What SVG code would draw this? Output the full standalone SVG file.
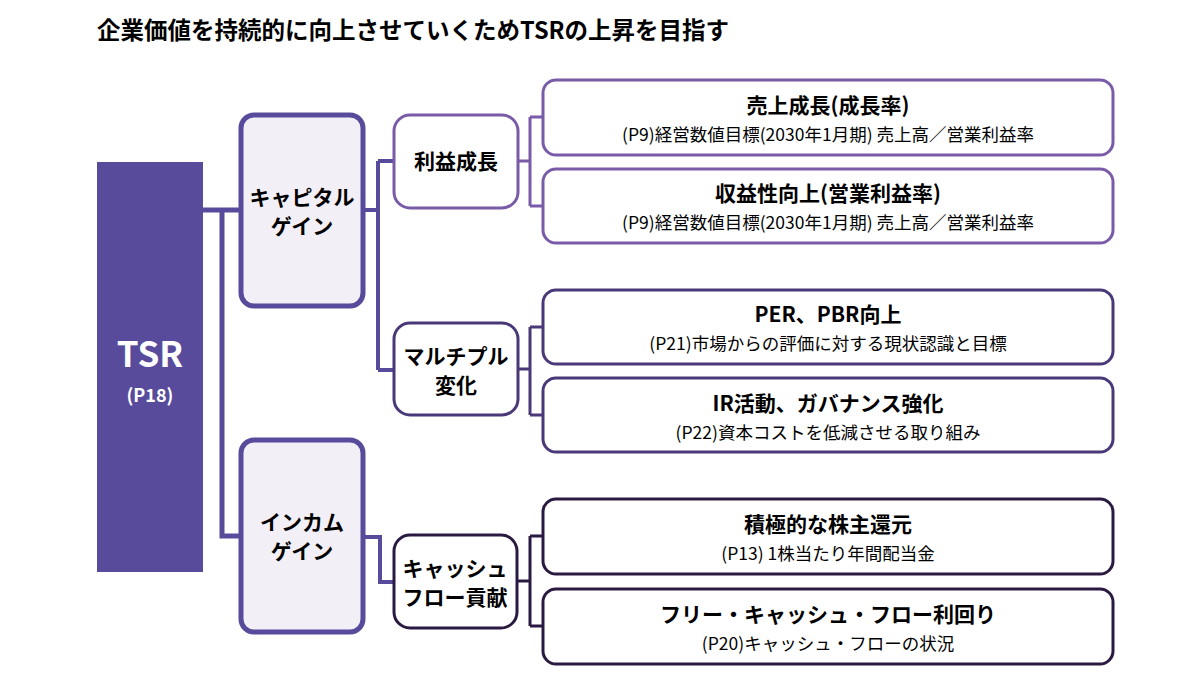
<svg xmlns="http://www.w3.org/2000/svg" width="1200" height="696" viewBox="0 0 1200 696">
<style>
text{font-family:"Noto Sans CJK JP","Noto Sans",sans-serif;fill:#000;text-anchor:middle}
.t{font-size:21px;font-weight:bold}
.s{font-size:17.5px}
.b{font-size:21px;font-weight:bold}
.cn{fill:none;stroke-linejoin:miter}
</style>
<rect width="1200" height="696" fill="#fff"/>
<text x="97" y="39" style="font-size:23.5px;font-weight:bold;text-anchor:start">企業価値を持続的に向上させていくためTSRの上昇を目指す</text>
<g id="connectors" class="cn">
<path d="M203 210H222V536H239M222 210H239" stroke="#584b9b" stroke-width="5"/>
<path d="M364 210H378M378 161V370M378 161H393M378 370H393" stroke="#584b9b" stroke-width="4"/>
<path d="M364 537H380V582H393" stroke="#584b9b" stroke-width="4"/>
<path d="M518 161H530M530 117V206M530 117H543M530 206H543" stroke="#7a5ba8" stroke-width="3"/>
<path d="M518 369H530M530 327V415M530 327H543M530 415H543" stroke="#4a3878" stroke-width="3"/>
<path d="M517 581H530M530 536V626M530 536H543M530 626H543" stroke="#2a1a42" stroke-width="3"/>
</g>
<g id="tsr"><rect x="97" y="162" width="106" height="410" fill="#584b9b"/>
<text x="150" y="367" style="font-size:35px;font-weight:bold;fill:#fff">TSR</text>
<text x="150" y="402" style="font-size:18px;font-weight:bold;fill:#fff">(P18)</text></g>
<g id="capital"><rect x="241" y="115" width="122" height="191" rx="13" fill="#f2eff6" stroke="#584b9b" stroke-width="5"/>
<text x="302" y="205" class="b">キャピタル</text><text x="302" y="234" class="b">ゲイン</text></g>
<g id="income"><rect x="241" y="440" width="122" height="192" rx="13" fill="#f2eff6" stroke="#584b9b" stroke-width="5"/>
<text x="302" y="530" class="b">インカム</text><text x="302" y="559" class="b">ゲイン</text></g>
<g id="rieki"><rect x="394" y="115" width="124" height="93" rx="16" fill="#fff" stroke="#7a5ba8" stroke-width="3"/>
<text x="456" y="169" class="b">利益成長</text></g>
<g id="multiple"><rect x="394" y="323" width="124" height="92" rx="16" fill="#fff" stroke="#4a3878" stroke-width="3"/>
<text x="456" y="364" class="b">マルチプル</text><text x="456" y="393" class="b">変化</text></g>
<g id="cash"><rect x="394" y="535" width="123" height="93" rx="16" fill="#fff" stroke="#2a1a42" stroke-width="3"/>
<text x="455" y="576" class="b">キャッシュ</text><text x="455" y="605" class="b">フロー貢献</text></g>
<g id="r1"><rect x="543" y="80" width="570" height="75" rx="13" fill="#fff" stroke="#7a5ba8" stroke-width="3"/>
<text x="828" y="113" class="t">売上成長(成長率)</text><text x="828" y="141" class="s">(P9)経営数値目標(2030年1月期) 売上高／営業利益率</text></g>
<g id="r2"><rect x="543" y="169" width="570" height="74" rx="13" fill="#fff" stroke="#7a5ba8" stroke-width="3"/>
<text x="828" y="201" class="t">収益性向上(営業利益率)</text><text x="828" y="229" class="s">(P9)経営数値目標(2030年1月期) 売上高／営業利益率</text></g>
<g id="r3"><rect x="543" y="290" width="570" height="74" rx="13" fill="#fff" stroke="#4a3878" stroke-width="3"/>
<text x="828" y="322" class="t">PER、PBR向上</text><text x="828" y="350" class="s">(P21)市場からの評価に対する現状認識と目標</text></g>
<g id="r4"><rect x="543" y="378" width="570" height="74" rx="13" fill="#fff" stroke="#4a3878" stroke-width="3"/>
<text x="828" y="411" class="t">IR活動、ガバナンス強化</text><text x="828" y="439" class="s">(P22)資本コストを低減させる取り組み</text></g>
<g id="r5"><rect x="543" y="499" width="570" height="75" rx="13" fill="#fff" stroke="#2a1a42" stroke-width="3"/>
<text x="828" y="532" class="t">積極的な株主還元</text><text x="828" y="560" class="s">(P13)  1株当たり年間配当金</text></g>
<g id="r6"><rect x="543" y="589" width="570" height="75" rx="13" fill="#fff" stroke="#2a1a42" stroke-width="3"/>
<text x="828" y="622" class="t">フリー・キャッシュ・フロー利回り</text><text x="828" y="650" class="s">(P20)キャッシュ・フローの状況</text></g>
</svg>
